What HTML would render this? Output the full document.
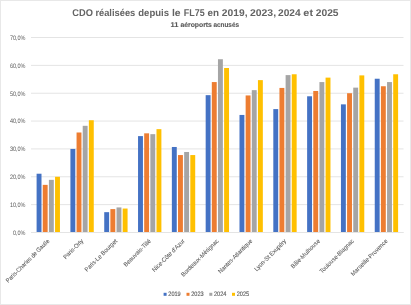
<!DOCTYPE html>
<html><head><meta charset="utf-8"><style>
html,body{margin:0;padding:0;background:#fff;}
svg{display:block;}
#w{width:411px;height:305px;will-change:transform;}
.t{stroke:#595959;stroke-width:0.12px;}
.u{stroke:#595959;stroke-width:0.06px;}
text{text-rendering:geometricPrecision;font-family:"Liberation Sans",sans-serif;}
</style></head><body><div id="w">
<svg width="411" height="305" viewBox="0 0 411 305">
<rect x="0.5" y="0.5" width="410" height="304" fill="#fff" stroke="#E8E8E8" stroke-width="1"/>
<line x1="31" y1="232.50" x2="403.5" y2="232.50" stroke="#E4E4E4" stroke-width="1"/>
<line x1="31" y1="204.64" x2="403.5" y2="204.64" stroke="#E4E4E4" stroke-width="1"/>
<line x1="31" y1="176.79" x2="403.5" y2="176.79" stroke="#E4E4E4" stroke-width="1"/>
<line x1="31" y1="148.93" x2="403.5" y2="148.93" stroke="#E4E4E4" stroke-width="1"/>
<line x1="31" y1="121.07" x2="403.5" y2="121.07" stroke="#E4E4E4" stroke-width="1"/>
<line x1="31" y1="93.22" x2="403.5" y2="93.22" stroke="#E4E4E4" stroke-width="1"/>
<line x1="31" y1="65.36" x2="403.5" y2="65.36" stroke="#E4E4E4" stroke-width="1"/>
<line x1="31" y1="37.50" x2="403.5" y2="37.50" stroke="#E4E4E4" stroke-width="1"/>
<text transform="translate(25.5,234.80) scale(0.86,1)" text-anchor="end" font-size="6.4" fill="#595959">0,0%</text>
<text transform="translate(25.5,206.94) scale(0.86,1)" text-anchor="end" font-size="6.4" fill="#595959">10,0%</text>
<text transform="translate(25.5,179.09) scale(0.86,1)" text-anchor="end" font-size="6.4" fill="#595959">20,0%</text>
<text transform="translate(25.5,151.23) scale(0.86,1)" text-anchor="end" font-size="6.4" fill="#595959">30,0%</text>
<text transform="translate(25.5,123.37) scale(0.86,1)" text-anchor="end" font-size="6.4" fill="#595959">40,0%</text>
<text transform="translate(25.5,95.52) scale(0.86,1)" text-anchor="end" font-size="6.4" fill="#595959">50,0%</text>
<text transform="translate(25.5,67.66) scale(0.86,1)" text-anchor="end" font-size="6.4" fill="#595959">60,0%</text>
<text transform="translate(25.5,39.80) scale(0.86,1)" text-anchor="end" font-size="6.4" fill="#595959">70,0%</text>
<rect x="36.60" y="173.72" width="4.9" height="58.28" fill="#4472C4"/>
<rect x="42.75" y="184.86" width="4.9" height="47.14" fill="#ED7D31"/>
<rect x="48.90" y="179.85" width="4.9" height="52.15" fill="#A5A5A5"/>
<rect x="55.05" y="176.79" width="4.9" height="55.21" fill="#FFC000"/>
<rect x="70.41" y="148.93" width="4.9" height="83.07" fill="#4472C4"/>
<rect x="76.56" y="132.49" width="4.9" height="99.51" fill="#ED7D31"/>
<rect x="82.71" y="125.81" width="4.9" height="106.19" fill="#A5A5A5"/>
<rect x="88.86" y="120.24" width="4.9" height="111.76" fill="#FFC000"/>
<rect x="104.23" y="212.16" width="4.9" height="19.84" fill="#4472C4"/>
<rect x="110.38" y="209.10" width="4.9" height="22.90" fill="#ED7D31"/>
<rect x="116.53" y="207.43" width="4.9" height="24.57" fill="#A5A5A5"/>
<rect x="122.68" y="208.54" width="4.9" height="23.46" fill="#FFC000"/>
<rect x="138.04" y="136.11" width="4.9" height="95.89" fill="#4472C4"/>
<rect x="144.19" y="133.33" width="4.9" height="98.67" fill="#ED7D31"/>
<rect x="150.34" y="134.16" width="4.9" height="97.84" fill="#A5A5A5"/>
<rect x="156.49" y="129.15" width="4.9" height="102.85" fill="#FFC000"/>
<rect x="171.86" y="146.98" width="4.9" height="85.02" fill="#4472C4"/>
<rect x="178.01" y="155.06" width="4.9" height="76.94" fill="#ED7D31"/>
<rect x="184.16" y="151.99" width="4.9" height="80.01" fill="#A5A5A5"/>
<rect x="190.31" y="155.06" width="4.9" height="76.94" fill="#FFC000"/>
<rect x="205.67" y="95.16" width="4.9" height="136.84" fill="#4472C4"/>
<rect x="211.82" y="82.07" width="4.9" height="149.93" fill="#ED7D31"/>
<rect x="217.97" y="59.23" width="4.9" height="172.77" fill="#A5A5A5"/>
<rect x="224.12" y="68.00" width="4.9" height="164.00" fill="#FFC000"/>
<rect x="239.49" y="114.94" width="4.9" height="117.06" fill="#4472C4"/>
<rect x="245.64" y="95.44" width="4.9" height="136.56" fill="#ED7D31"/>
<rect x="251.79" y="90.15" width="4.9" height="141.85" fill="#A5A5A5"/>
<rect x="257.94" y="80.12" width="4.9" height="151.88" fill="#FFC000"/>
<rect x="273.31" y="109.09" width="4.9" height="122.91" fill="#4472C4"/>
<rect x="279.45" y="87.92" width="4.9" height="144.08" fill="#ED7D31"/>
<rect x="285.61" y="75.11" width="4.9" height="156.89" fill="#A5A5A5"/>
<rect x="291.75" y="74.27" width="4.9" height="157.73" fill="#FFC000"/>
<rect x="307.12" y="96.28" width="4.9" height="135.72" fill="#4472C4"/>
<rect x="313.27" y="90.99" width="4.9" height="141.01" fill="#ED7D31"/>
<rect x="319.42" y="82.07" width="4.9" height="149.93" fill="#A5A5A5"/>
<rect x="325.57" y="77.62" width="4.9" height="154.38" fill="#FFC000"/>
<rect x="340.94" y="104.36" width="4.9" height="127.64" fill="#4472C4"/>
<rect x="347.08" y="93.22" width="4.9" height="138.78" fill="#ED7D31"/>
<rect x="353.24" y="87.64" width="4.9" height="144.36" fill="#A5A5A5"/>
<rect x="359.38" y="75.39" width="4.9" height="156.61" fill="#FFC000"/>
<rect x="374.75" y="78.73" width="4.9" height="153.27" fill="#4472C4"/>
<rect x="380.90" y="86.25" width="4.9" height="145.75" fill="#ED7D31"/>
<rect x="387.05" y="82.07" width="4.9" height="149.93" fill="#A5A5A5"/>
<rect x="393.20" y="74.27" width="4.9" height="157.73" fill="#FFC000"/>
<line x1="31" y1="232.50" x2="403.5" y2="232.50" stroke="#E4E4E4" stroke-width="1"/>
<text transform="translate(49.90,241.50) rotate(-45) scale(0.895,1)" text-anchor="end" font-size="6.2" fill="#595959" class="u">Paris-Charles de Gaulle</text>
<text transform="translate(83.71,241.50) rotate(-45) scale(0.93,1)" text-anchor="end" font-size="6.2" fill="#595959" class="u">Paris-Orly</text>
<text transform="translate(117.53,241.50) rotate(-45) scale(0.93,1)" text-anchor="end" font-size="6.2" fill="#595959" class="u">Paris-Le Bourget</text>
<text transform="translate(151.34,241.50) rotate(-45) scale(0.93,1)" text-anchor="end" font-size="6.2" fill="#595959" class="u">Beauvais-Tillé</text>
<text transform="translate(185.16,241.50) rotate(-45) scale(0.93,1)" text-anchor="end" font-size="6.2" fill="#595959" class="u">Nice-Côte d'Azur</text>
<text transform="translate(218.97,241.50) rotate(-45) scale(0.93,1)" text-anchor="end" font-size="6.2" fill="#595959" class="u">Bordeaux-Mérignac</text>
<text transform="translate(252.79,241.50) rotate(-45) scale(0.93,1)" text-anchor="end" font-size="6.2" fill="#595959" class="u">Nantes-Atlantique</text>
<text transform="translate(286.61,241.50) rotate(-45) scale(0.93,1)" text-anchor="end" font-size="6.2" fill="#595959" class="u">Lyon-St Exupéry</text>
<text transform="translate(320.42,241.50) rotate(-45) scale(0.93,1)" text-anchor="end" font-size="6.2" fill="#595959" class="u">Bâle-Mulhouse</text>
<text transform="translate(354.24,241.50) rotate(-45) scale(0.93,1)" text-anchor="end" font-size="6.2" fill="#595959" class="u">Toulouse-Blagnac</text>
<text transform="translate(388.05,241.50) rotate(-45) scale(0.93,1)" text-anchor="end" font-size="6.2" fill="#595959" class="u">Marseille-Provence</text>
<text transform="translate(0,15.6) scale(1,1.0)" x="72.22" y="0" font-size="9.8" font-weight="bold" fill="#646464" textLength="20.67" lengthAdjust="spacingAndGlyphs">CDO</text>
<text transform="translate(0,15.6) scale(1,1.0)" x="95.39" y="0" font-size="9.8" font-weight="bold" fill="#646464" textLength="39.89" lengthAdjust="spacingAndGlyphs">réalisées</text>
<text transform="translate(0,15.6) scale(1,1.0)" x="138.31" y="0" font-size="9.8" font-weight="bold" fill="#646464" textLength="30.68" lengthAdjust="spacingAndGlyphs">depuis</text>
<text transform="translate(0,15.6) scale(1,1.0)" x="171.97" y="0" font-size="9.8" font-weight="bold" fill="#646464" textLength="8.68" lengthAdjust="spacingAndGlyphs">le</text>
<text transform="translate(0,15.6) scale(1,1.0)" x="183.80" y="0" font-size="9.8" font-weight="bold" fill="#646464" textLength="20.85" lengthAdjust="spacingAndGlyphs">FL75</text>
<text transform="translate(0,15.6) scale(1,1.0)" x="207.52" y="0" font-size="9.8" font-weight="bold" fill="#646464" textLength="11.49" lengthAdjust="spacingAndGlyphs">en</text>
<text transform="translate(0,15.6) scale(1,1.0)" x="221.84" y="0" font-size="9.8" font-weight="bold" fill="#646464" textLength="25.74" lengthAdjust="spacingAndGlyphs">2019,</text>
<text transform="translate(0,15.6) scale(1,1.0)" x="249.93" y="0" font-size="9.8" font-weight="bold" fill="#646464" textLength="26.16" lengthAdjust="spacingAndGlyphs">2023,</text>
<text transform="translate(0,15.6) scale(1,1.0)" x="278.04" y="0" font-size="9.8" font-weight="bold" fill="#646464" textLength="22.61" lengthAdjust="spacingAndGlyphs">2024</text>
<text transform="translate(0,15.6) scale(1,1.0)" x="303.38" y="0" font-size="9.8" font-weight="bold" fill="#646464" textLength="9.66" lengthAdjust="spacingAndGlyphs">et</text>
<text transform="translate(0,15.6) scale(1,1.0)" x="315.74" y="0" font-size="9.8" font-weight="bold" fill="#646464" textLength="22.85" lengthAdjust="spacingAndGlyphs">2025</text>
<text x="170.42" y="26.7" font-size="6.9" font-weight="bold" fill="#595959" class="t" textLength="7.99" lengthAdjust="spacingAndGlyphs">11</text>
<text x="180.40" y="26.7" font-size="6.9" font-weight="bold" fill="#595959" class="t" textLength="31.48" lengthAdjust="spacingAndGlyphs">aéroports</text>
<text x="213.41" y="26.7" font-size="6.9" font-weight="bold" fill="#595959" class="t" textLength="25.65" lengthAdjust="spacingAndGlyphs">acnusés</text>
<rect x="163.60" y="292.8" width="3" height="3" fill="#4472C4"/>
<text x="168.30" y="296.1" font-size="6.4" fill="#595959" class="t" textLength="12.4" lengthAdjust="spacingAndGlyphs">2019</text>
<rect x="186.50" y="292.8" width="3" height="3" fill="#ED7D31"/>
<text x="191.20" y="296.1" font-size="6.4" fill="#595959" class="t" textLength="12.4" lengthAdjust="spacingAndGlyphs">2023</text>
<rect x="209.30" y="292.8" width="3" height="3" fill="#A5A5A5"/>
<text x="214.00" y="296.1" font-size="6.4" fill="#595959" class="t" textLength="12.4" lengthAdjust="spacingAndGlyphs">2024</text>
<rect x="232.00" y="292.8" width="3" height="3" fill="#FFC000"/>
<text x="236.70" y="296.1" font-size="6.4" fill="#595959" class="t" textLength="12.4" lengthAdjust="spacingAndGlyphs">2025</text>
</svg></div>
</body></html>
